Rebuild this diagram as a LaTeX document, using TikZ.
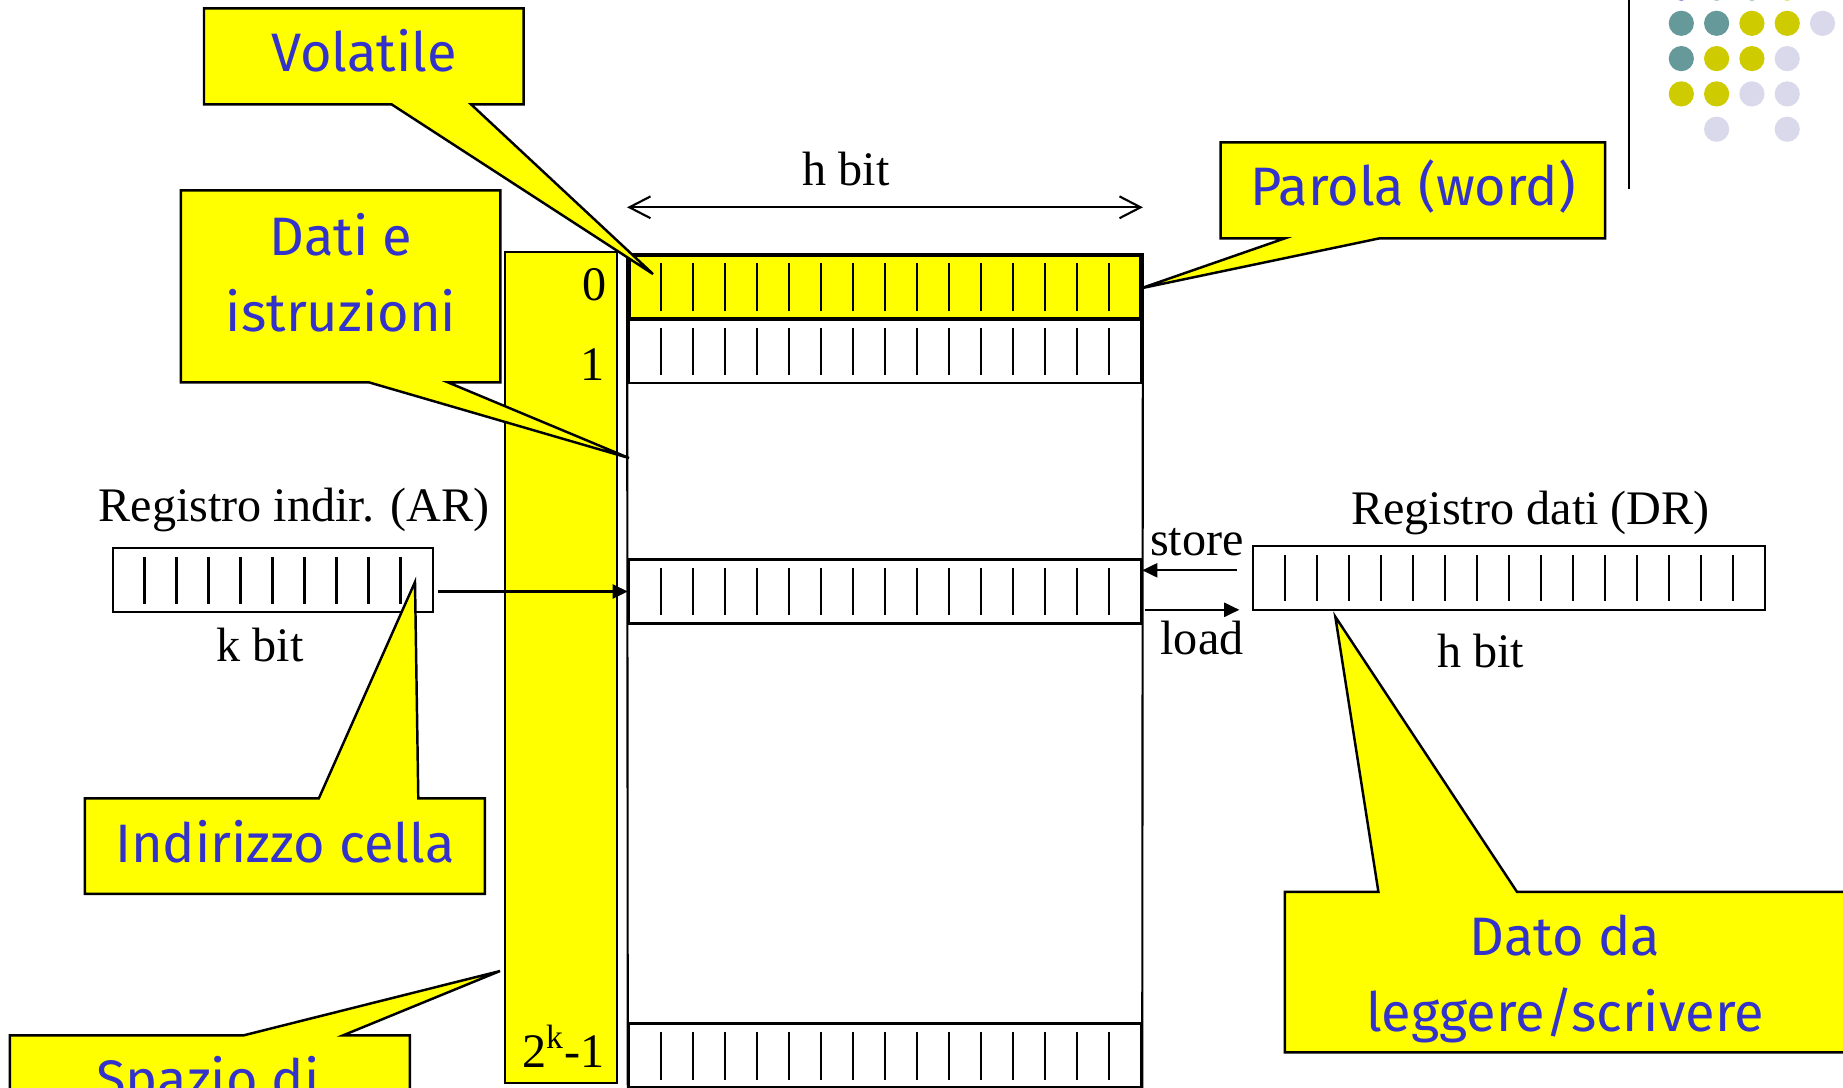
\documentclass[tikz,border=0pt]{standalone}
\usepackage{fontspec}
\setmainfont{Liberation Serif}
\newfontfamily\callfont{Fira Sans}
\usetikzlibrary{arrows.meta}

\definecolor{callyellow}{RGB}{255,255,0}
\definecolor{callblue}{RGB}{51,51,204}
\definecolor{dotteal}{RGB}{102,153,153}
\definecolor{dotyellow}{RGB}{206,204,0}
\definecolor{dotlilac}{RGB}{217,217,235}

\tikzset{
  callout/.style={fill=callyellow,draw=black,line width=0.7pt},
  calltext/.style={font=\callfont\fontsize{15.4}{21.6}\selectfont,text=callblue,align=center,anchor=base},
  plain/.style={font=\fontsize{13.7}{16}\selectfont,anchor=base,inner sep=0pt},
  wordrow/.style={draw,minimum width=5.12cm,minimum height=0.64cm,inner sep=0pt},
  hbit/.style={{Straight Barb[length=6pt,width=6.2pt]}-{Straight Barb[length=6pt,width=6.2pt]}},
}

\begin{document}
\begin{tikzpicture}[x=0.01cm,y=-0.01cm,line width=0.6pt,>={Triangle[length=4.3pt,width=4pt]}]
  \useasboundingbox (0,0) rectangle (1843,1087);
  \clip (0,0) rectangle (1843,1087);

  % corner dots and rule
  \foreach \c/\r/\col in {0/0/callblue,1/0/dotteal,2/0/dotteal,3/0/dotyellow,
      0/1/dotteal,1/1/dotteal,2/1/dotyellow,3/1/dotyellow,4/1/dotlilac,
      0/2/dotteal,1/2/dotyellow,2/2/dotyellow,3/2/dotlilac,
      0/3/dotyellow,1/3/dotyellow,2/3/dotlilac,3/3/dotlilac,
      1/4/dotlilac,3/4/dotlilac}
    \fill[\col] (1681.3+35.3*\c,-12+35.3*\r) circle[radius=0.126cm];
  \draw[line width=0.7pt] (1629,0) -- (1629,189);

  % address column
  \filldraw[fill=callyellow] (505.4,251.7) rectangle (617.4,1083);
  \node[plain,anchor=base east] (a0) at (608,300) {0};
  \node[plain,anchor=base east] (a1) at (606,380) {1};
  \node[plain,anchor=base east] (an) at (606,1067) {2\textsuperscript{k}-1};

  % memory words
  \node[wordrow,fill=callyellow,line width=1pt] (w0) at (885,287) {};
  \node[wordrow] (w1) at (885,351) {};
  \node[wordrow] (wk) at (885,591.5) {};
  \node[wordrow] (wn) at (885,1055.5) {};
  \draw (w0.north west) -- (wn.south west);
  \draw (w0.north east) -- (wn.south east);
  \foreach \y in {263,327.5,567.5,1032}
    \foreach \i in {1,...,15}
      \draw (629+32*\i,\y) -- ++(0,47.5);

  \draw[hbit] (w0.west |- 0,207.3) -- (w0.east |- 0,207.3);
  \node[plain] (hb) at (846,185) {h bit};

  % address register
  \node[draw,minimum width=3.2cm,minimum height=0.638cm,inner sep=0pt] (ar) at (272.75,580) {};
  \foreach \i in {1,...,9}
    \draw (112.5+32*\i,556.5) -- ++(0,47);
  \node[plain] (arl) at (294,521) {Registro indir. (AR)};
  \node[plain] (kb) at (260,661) {k bit};
  \draw[->,shorten <=1.3pt] (ar.east |- wk.west) -- (wk.west);

  % data register
  \node[draw,minimum width=5.12cm,minimum height=0.64cm,inner sep=0pt] (dr) at (1509,578.2) {};
  \foreach \i in {1,...,15}
    \draw (1253+32*\i,555) -- ++(0,46);
  \node[plain] (drl) at (1530.5,524.4) {Registro dati (DR)};
  \node[plain] (hb2) at (1480.5,667.5) {h bit};
  \coordinate (st) at (1237,570.3);
  \coordinate (ld) at (1144.6,609.8);
  \coordinate (ldend) at (1239.3,609.8);
  \draw[->] (st) -- (st -| wk.east);
  \draw[->] (ld) -- (ldend);
  \node[plain] (stl) at (1197,555) {store};
  \node[plain] (ldl) at (1202,654.5) {load};

  % callouts
  \filldraw[callout] (204,8.3) -- (523.7,8.3) -- (523.7,104.3) -- (471,104.3)
    -- (653,274) -- (391.5,104.3) -- (204,104.3) -- cycle;
  \node[calltext] (vol) at (364,71.7) {Volatile};

  \filldraw[callout] (180.8,190.3) -- (500.4,190.3) -- (500.4,382.3) -- (447.8,382.3)
    -- (629,458) -- (368.8,382.3) -- (180.8,382.3) -- cycle;
  \node[calltext] (dat) at (341,331.7) {Dati e\\istruzioni};

  \filldraw[callout] (1220.5,142.3) -- (1605,142.3) -- (1605,238.3) -- (1379.6,238.3)
    -- (1141,288.3) -- (1284.9,238.3) -- (1220.5,238.3) -- cycle;
  \node[calltext] (par) at (1413,205) {Parola (word)};

  \filldraw[callout] (84.8,798.4) -- (318.8,798.4) -- (415,582) -- (418.3,798.4)
    -- (484.8,798.4) -- (484.8,893.9) -- (84.8,893.9) -- cycle;
  \node[calltext] (ind) at (285,862.6) {Indirizzo cella};

  \filldraw[callout] (9.8,1035.4) -- (243.3,1035.4) -- (500,971) -- (342.9,1035.4)
    -- (409.8,1035.4) -- (409.8,1200) -- (9.8,1200) -- cycle;
  \node[calltext] (spa) at (208,1098) {Spazio di};

  \filldraw[callout] (1284.9,891.9) -- (1378.4,891.9) -- (1335.3,616.7) -- (1517,891.9)
    -- (1850,891.9) -- (1850,1052.4) -- (1284.9,1052.4) -- cycle;
  \node[calltext] (dato) at (1565,1031.3) {Dato da\\leggere/scrivere};
\end{tikzpicture}
\end{document}
